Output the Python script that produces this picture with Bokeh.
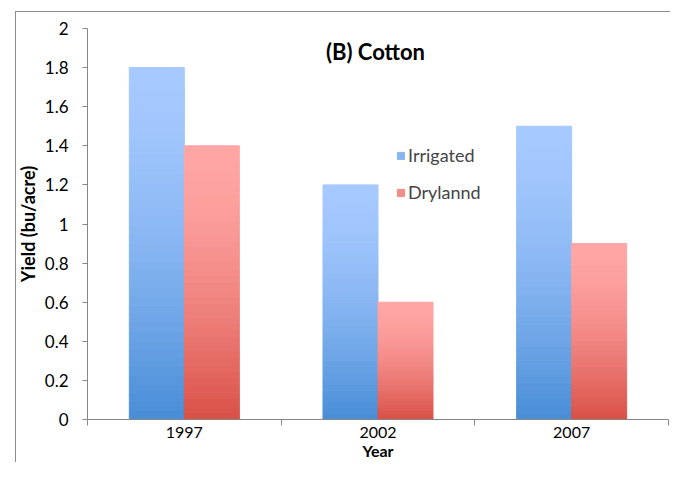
from bokeh.plotting import figure
from bokeh.models import ColumnDataSource, FixedTicker, Label, Legend, LegendItem
from bokeh.embed import file_html
from bokeh.resources import INLINE

# ---- data ----
years = ["1997", "2002", "2007"]
irrigated = [1.8, 1.2, 1.5]
dryland = [1.4, 0.6, 0.9]
series_names = ["Irrigated", "Drylannd"]
y_ticks = [0, 0.2, 0.4, 0.6, 0.8, 1.0, 1.2, 1.4, 1.6, 1.8, 2.0]
y_tick_labels = ["0", "0.2", "0.4", "0.6", "0.8", "1", "1.2", "1.4", "1.6", "1.8", "2"]

FONT = "Lato"
AXIS_COL = "#868686"
BORDER_COL = "#8c8c8c"
BW = 0.284
N = 40

blue_light, blue_dark = (166, 201, 255), (72, 141, 214)
red_light, red_dark = (255, 166, 165), (216, 80, 70)


def mix(c1, c2, f):
    return "#%02x%02x%02x" % tuple(int(round(a + (b - a) * f)) for a, b in zip(c1, c2))


def grad_source(vals, offset, light, dark):
    xs, bots, tops, cols = [], [], [], []
    for i, v in enumerate(vals):
        for k in range(N):
            xs.append(i + 0.5 + offset)
            bots.append(v * k / N)
            tops.append(v * (k + 1) / N)
            t = 1 - (k + 0.5) / N  # 0 at top, 1 at bottom
            cols.append(mix(light, dark, t ** 1.6))
    return ColumnDataSource(dict(x=xs, bottom=bots, top=tops, color=cols))


p = figure(width=670, height=462, output_backend="svg", toolbar_location=None,
           x_range=(0, len(years)), y_range=(0, 2),
           min_border_left=87, min_border_right=2, min_border_top=28, min_border_bottom=42)
p.grid.visible = False
p.outline_line_color = None
p.border_fill_color = None
p.background_fill_color = None
# thin grey chart-area frame (top and left edges), drawn behind the transparent canvas
p.styles = {
    "background-color": "#ffffff",
    "background-image": "linear-gradient(%s, %s), linear-gradient(%s, %s)" % (BORDER_COL, BORDER_COL, BORDER_COL, BORDER_COL),
    "background-size": "1px 2000px, 2000px 1px",
    "background-position": "15px 11px, 15px 11px",
    "background-repeat": "no-repeat",
}

src_i = grad_source(irrigated, -BW / 2, blue_light, blue_dark)
src_d = grad_source(dryland, BW / 2, red_light, red_dark)
r_i = p.vbar(x="x", width=BW, bottom="bottom", top="top", fill_color="color",
             line_color="color", line_width=1, source=src_i)
r_d = p.vbar(x="x", width=BW, bottom="bottom", top="top", fill_color="color",
             line_color="color", line_width=1, source=src_d)

# x axis: labels at category centres, tick marks at boundaries
xa = p.xaxis[0]
centres = [i + 0.5 for i in range(len(years))]
xa.ticker = FixedTicker(ticks=centres, minor_ticks=list(range(len(years) + 1)))
xa.major_label_overrides = {c: y for c, y in zip(centres, years)}
xa.major_tick_line_color = None
xa.major_tick_out = 0
xa.major_tick_in = 0
xa.minor_tick_in = 0
xa.minor_tick_out = 6
xa.minor_tick_line_color = AXIS_COL
xa.axis_line_color = AXIS_COL
xa.major_label_standoff = 1
xa.major_label_text_font = FONT
xa.major_label_text_font_size = "16px"
xa.major_label_text_color = "#000000"
xa.axis_label = "Year"
xa.axis_label_text_font = FONT
xa.axis_label_text_font_style = "bold"
xa.axis_label_text_font_size = "16px"
xa.axis_label_text_color = "#000000"
xa.axis_label_standoff = 0

ya = p.yaxis[0]
ya.ticker = FixedTicker(ticks=y_ticks, minor_ticks=[])
ya.major_label_overrides = {t: s for t, s in zip(y_ticks, y_tick_labels)}
ya.major_tick_in = 0
ya.major_tick_out = 5
ya.major_tick_line_color = AXIS_COL
ya.axis_line_color = AXIS_COL
ya.major_label_standoff = 14
ya.major_label_text_font = FONT
ya.major_label_text_font_size = "17px"
ya.major_label_text_color = "#000000"
ya.axis_label = "Yield (bu/acre)"
ya.axis_label_text_font = FONT
ya.axis_label_text_font_style = "bold"
ya.axis_label_text_font_size = "18px"
ya.axis_label_text_color = "#000000"
ya.axis_label_standoff = 3

legend = Legend(items=[LegendItem(label=series_names[0], renderers=[r_i], index=N // 2),
                       LegendItem(label=series_names[1], renderers=[r_d], index=N // 2)],
                location=(309, 216), padding=0, margin=0, spacing=15,
                glyph_width=9, glyph_height=9, label_height=22, label_standoff=3,
                label_text_font=FONT, label_text_font_size="18px",
                border_line_color=None, background_fill_alpha=0)
p.add_layout(legend)

title = Label(x=1.487, y=1.883, text="(B) Cotton", text_align="center", text_baseline="middle",
              text_font=FONT, text_font_style="bold", text_font_size="22px", text_color="#000000")
p.add_layout(title)

open("out.html", "w").write(file_html(p, INLINE))
